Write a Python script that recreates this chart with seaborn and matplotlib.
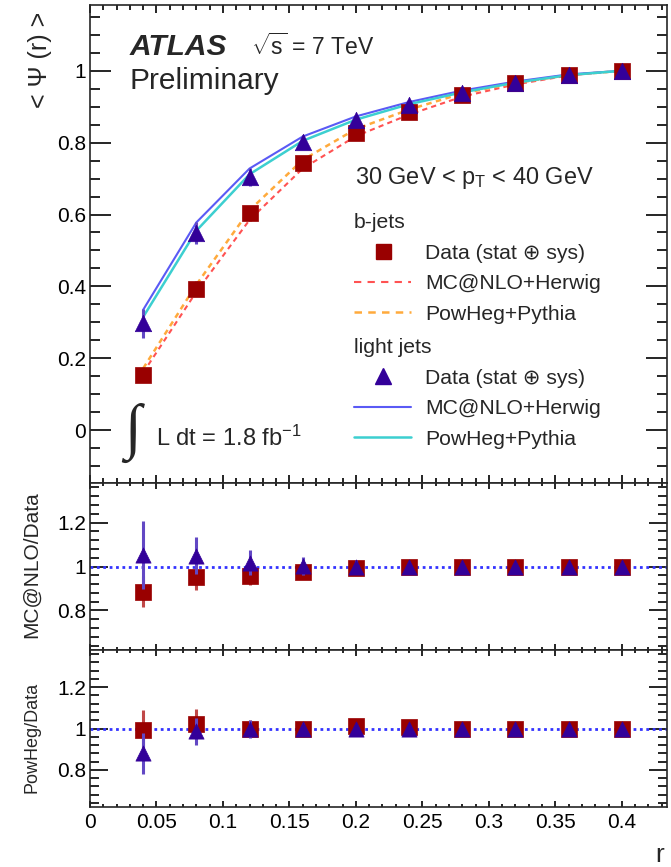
import numpy as np
import pandas as pd
import matplotlib
matplotlib.use("Agg")
import matplotlib.pyplot as plt
from matplotlib.lines import Line2D
from matplotlib.ticker import MultipleLocator, FuncFormatter
import seaborn as sns

# values
r_vals = [0.04, 0.08, 0.12, 0.16, 0.20, 0.24, 0.28, 0.32, 0.36, 0.40]

b_data = [0.153, 0.394, 0.603, 0.742, 0.826, 0.884, 0.933, 0.965, 0.988, 1.0]
b_err = [0.02, 0.02, 0.02, 0.015, 0.012, 0.01, 0.008, 0.006, 0.004, 0.0]
l_data = [0.297, 0.548, 0.705, 0.802, 0.862, 0.905, 0.939, 0.965, 0.988, 1.0]
l_err = [0.04, 0.03, 0.025, 0.02, 0.015, 0.012, 0.01, 0.006, 0.004, 0.0]

b_mcnlo = [0.160, 0.385, 0.585, 0.728, 0.818, 0.878, 0.928, 0.962, 0.987, 1.0]
b_powheg = [0.172, 0.405, 0.612, 0.752, 0.838, 0.892, 0.937, 0.966, 0.988, 1.0]
l_mcnlo = [0.335, 0.578, 0.728, 0.817, 0.873, 0.913, 0.945, 0.970, 0.990, 1.0]
l_powheg = [0.315, 0.555, 0.712, 0.805, 0.864, 0.907, 0.940, 0.967, 0.988, 1.0]

# MC@NLO / Data
r1_b = [0.886, 0.951, 0.957, 0.973, 0.993, 0.998, 0.997, 1.0, 1.0, 1.0]
r1_b_err = [0.07, 0.06, 0.04, 0.03, 0.02, 0.015, 0.01, 0.01, 0.005, 0.0]
r1_l = [1.052, 1.049, 1.018, 1.003, 1.0, 1.0, 0.999, 1.0, 1.0, 1.0]
r1_l_err = [0.155, 0.085, 0.055, 0.04, 0.03, 0.02, 0.015, 0.01, 0.005, 0.0]

# PowHeg / Data
r2_b = [0.995, 1.024, 1.0, 1.0, 1.011, 1.005, 1.0, 1.0, 1.0, 1.0]
r2_b_err = [0.095, 0.07, 0.04, 0.03, 0.02, 0.015, 0.01, 0.01, 0.005, 0.0]
r2_l = [0.88, 0.987, 0.997, 0.997, 0.997, 0.997, 0.998, 1.0, 1.0, 1.0]
r2_l_err = [0.10, 0.065, 0.045, 0.03, 0.02, 0.015, 0.01, 0.01, 0.005, 0.0]

x_ticks = [0, 0.05, 0.1, 0.15, 0.2, 0.25, 0.3, 0.35, 0.4]

sq_col = "#990000"
tri_col = "#330099"
sq_err_col = "#c04848"
tri_err_col = "#6248c4"
col_mcnlo_l = "#5a5af5"
col_powheg_l = "#3ccfd0"
col_mcnlo_b = "#ff5252"
col_powheg_b = "#ffaa3c"

sns.set_style("ticks")
plt.rcParams["font.family"] = ["Liberation Sans", "DejaVu Sans"]
plt.rcParams["mathtext.fontset"] = "custom"
plt.rcParams["mathtext.rm"] = "Liberation Sans"
plt.rcParams["mathtext.it"] = "Liberation Sans:italic"
plt.rcParams["axes.linewidth"] = 1.2

df = pd.DataFrame({"r": r_vals, "b_data": b_data, "l_data": l_data,
                   "b_mcnlo": b_mcnlo, "b_powheg": b_powheg,
                   "l_mcnlo": l_mcnlo, "l_powheg": l_powheg,
                   "r1_b": r1_b, "r1_l": r1_l, "r2_b": r2_b, "r2_l": r2_l})

W, H = 671, 867
fig = plt.figure(figsize=(W / 100, H / 100), dpi=100)
left, right = 90, 667
ax1 = fig.add_axes([left / W, 1 - 483 / H, (right - left) / W, 478 / H])
ax2 = fig.add_axes([left / W, 1 - 650 / H, (right - left) / W, 167 / H])
ax3 = fig.add_axes([left / W, 1 - 807 / H, (right - left) / W, 157 / H])


def fmt(v, pos):
    v = round(v, 3)
    if v == 0:
        return "0"
    return f"{v:g}"


def style_axis(ax, ylen, xlen):
    ax.set_xlim(0, 0.434)
    ax.xaxis.set_major_locator(MultipleLocator(0.05))
    ax.xaxis.set_minor_locator(MultipleLocator(0.01))
    ax.xaxis.set_major_formatter(FuncFormatter(fmt))
    ax.yaxis.set_major_formatter(FuncFormatter(fmt))
    ax.tick_params(axis="both", which="both", direction="in", top=True, right=True,
                   width=1.2, labelsize=15, colors="black")
    ax.tick_params(axis="y", which="major", length=ylen[0], pad=3)
    ax.tick_params(axis="y", which="minor", length=ylen[1])
    ax.tick_params(axis="x", which="major", length=xlen[0], pad=4)
    ax.tick_params(axis="x", which="minor", length=xlen[1])
    for s in ax.spines.values():
        s.set_visible(True)
        s.set_linewidth(1.2)
    ax.set_xlabel("")
    ax.set_ylabel("")


# ---- top panel
sns.lineplot(data=df, x="r", y="b_mcnlo", ax=ax1, color=col_mcnlo_b, linestyle="--",
             linewidth=1.5, zorder=2)
ax1.lines[-1].set_dashes((2.5, 2))
sns.lineplot(data=df, x="r", y="b_powheg", ax=ax1, color=col_powheg_b, linestyle="--",
             linewidth=1.8, zorder=2)
ax1.lines[-1].set_dashes((2.2, 1.8))
sns.lineplot(data=df, x="r", y="l_mcnlo", ax=ax1, color=col_mcnlo_l, linewidth=1.5, zorder=2)
sns.lineplot(data=df, x="r", y="l_powheg", ax=ax1, color=col_powheg_l, linewidth=1.8, zorder=2)

ax1.errorbar(r_vals, b_data, yerr=b_err, fmt="none", ecolor=sq_err_col, elinewidth=2.2, zorder=3)
sns.scatterplot(data=df, x="r", y="b_data", ax=ax1, marker="s", s=118, color=sq_col,
                edgecolor=sq_col, linewidth=0.5, zorder=4)
ax1.errorbar(r_vals, l_data, yerr=l_err, fmt="none", ecolor=tri_err_col, elinewidth=2.2, zorder=5)
sns.scatterplot(data=df, x="r", y="l_data", ax=ax1, marker="^", s=140, color=tri_col,
                edgecolor=tri_col, linewidth=0.5, zorder=6)

ax1.set_ylim(-0.147, 1.183)
ax1.yaxis.set_major_locator(MultipleLocator(0.2))
ax1.yaxis.set_minor_locator(MultipleLocator(0.05))
style_axis(ax1, (15, 7.5), (6, 3.3))
ax1.tick_params(axis="x", labelbottom=False)

# legends
leg_kw = dict(loc="upper left", frameon=False, fontsize=15.2, title_fontsize=15.2,
              handlelength=2.7, handletextpad=0.68, labelspacing=0.55, borderpad=0,
              borderaxespad=0, alignment="left")
h_b = [Line2D([], [], marker="s", ls="none", color=sq_col, markersize=10.8),
       Line2D([], [], color=col_mcnlo_b, ls=(0, (3.5, 3)), lw=1.5),
       Line2D([], [], color=col_powheg_b, ls=(0, (3, 2.5)), lw=1.8)]
h_l = [Line2D([], [], marker="^", ls="none", color=tri_col, markersize=11.5),
       Line2D([], [], color=col_mcnlo_l, lw=1.5),
       Line2D([], [], color=col_powheg_l, lw=1.8)]
labels = ["Data (stat \u2295 sys)", "MC@NLO+Herwig", "PowHeg+Pythia"]
leg1 = ax1.legend(h_b, labels, title="b-jets",
                  bbox_to_anchor=((354 - left) / 577, (483 - 213) / 478), **leg_kw)
ax1.add_artist(leg1)
leg2 = ax1.legend(h_l, labels, title="light jets",
                  bbox_to_anchor=((354 - left) / 577, (483 - 338) / 478), **leg_kw)

# texts
fig.text(130 / W, 1 - 47 / H, "ATLAS", fontsize=21.5, fontweight="bold", fontstyle="italic",
         va="center", ha="left")
fig.text(251 / W, 1 - 47 / H, r"$\sqrt{\mathrm{s}}$ = 7 TeV", fontsize=16.5, va="center", ha="left")
fig.text(130 / W, 1 - 81 / H, "Preliminary", fontsize=21.5, va="center", ha="left")
fig.text(355 / W, 1 - 178 / H, r"30 GeV < p$_{\mathrm{T}}$ < 40 GeV", fontsize=16.9, va="center", ha="left")
fig.text(124 / W, 1 - 433 / H, "\u222b", fontsize=44, va="center", ha="left",
         family=["Liberation Serif", "DejaVu Serif"])
fig.text(156 / W, 1 - 438 / H, r"L dt = 1.8 fb$^{\mathrm{-1}}$", fontsize=17, va="center", ha="left")

fig.text(40 / W, 1 - 60 / H, "< \u03a8 (r) >", fontsize=18, rotation=90, va="center", ha="center")
fig.text(655 / W, 1 - 862 / H, "r", fontsize=19, va="baseline", ha="left")

# ---- ratio panels
for ax, yb, eb, yl, el, lab, lsz, ly in [
        (ax2, "r1_b", r1_b_err, "r1_l", r1_l_err, "MC@NLO/Data", 15, 565),
        (ax3, "r2_b", r2_b_err, "r2_l", r2_l_err, "PowHeg/Data", 13, 737)]:
    ax.axhline(1, color="#3333ff", linestyle=(0, (1, 1.3)), linewidth=2, zorder=1)
    ax.errorbar(r_vals, df[yb], yerr=eb, fmt="none", ecolor=sq_err_col, elinewidth=2.2, zorder=3)
    sns.scatterplot(data=df, x="r", y=yb, ax=ax, marker="s", s=118, color=sq_col,
                    edgecolor=sq_col, linewidth=0.5, zorder=4)
    ax.errorbar(r_vals, df[yl], yerr=el, fmt="none", ecolor=tri_err_col, elinewidth=2.2, zorder=5)
    sns.scatterplot(data=df, x="r", y=yl, ax=ax, marker="^", s=120, color=tri_col,
                    edgecolor=tri_col, linewidth=0.5, zorder=6)
    ax.set_ylim(0.62, 1.38)
    ax.yaxis.set_major_locator(MultipleLocator(0.2))
    ax.yaxis.set_minor_locator(MultipleLocator(0.04))
    style_axis(ax, (13, 6.5), (4.5, 2.5))
    fig.text(32 / W, 1 - ly / H, lab, fontsize=lsz, rotation=90, va="center", ha="center")

ax2.tick_params(axis="x", labelbottom=False)
ax3.set_xticks(x_ticks)
ax3.xaxis.set_minor_locator(MultipleLocator(0.01))

fig.savefig("out.png", dpi=100)
